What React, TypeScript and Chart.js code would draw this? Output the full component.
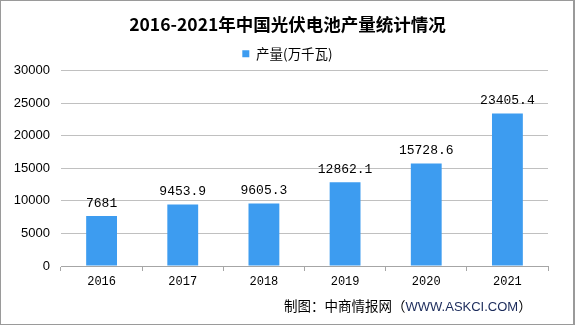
import React, { useEffect, useRef } from "react";
import { Chart, registerables } from "chart.js";

Chart.register(...registerables);

const categories = ["2016", "2017", "2018", "2019", "2020", "2021"];
const production = [7681, 9453.9, 9605.3, 12862.1, 15728.6, 23405.4];
const valueLabels = ["7681", "9453.9", "9605.3", "12862.1", "15728.6", "23405.4"];
const seriesName = "产量(万千瓦)";
const titleText = "2016-2021年中国光伏电池产量统计情况";
const sourceText = "制图：中商情报网（";
const sourceUrl = "WWW.ASKCI.COM";

const valueLabelPlugin = {
  id: "valueLabels",
  afterDatasetsDraw(chart: any) {
    const ctx = chart.ctx;
    const meta = chart.getDatasetMeta(0);
    ctx.save();
    ctx.font = "13px 'Liberation Mono', monospace";
    ctx.fillStyle = "#000";
    ctx.textAlign = "center";
    ctx.textBaseline = "bottom";
    meta.data.forEach((bar: any, i: number) => {
      ctx.fillText(valueLabels[i], bar.x, bar.y - 6);
    });
    ctx.restore();
  },
};

export default function App() {
  const canvasRef = useRef<HTMLCanvasElement | null>(null);

  useEffect(() => {
    if (!canvasRef.current) return;
    const chart = new Chart(canvasRef.current, {
      type: "bar",
      data: {
        labels: categories,
        datasets: [
          {
            label: seriesName,
            data: production,
            backgroundColor: "#3D9CF0",
            borderWidth: 0,
            barPercentage: 0.76,
            categoryPercentage: 0.5,
            yAxisID: "y",
          },
        ],
      },
      options: {
        animation: false,
        responsive: false,
        maintainAspectRatio: false,
        layout: { padding: 0 },
        plugins: {
          title: {
            display: true,
            text: titleText,
            color: "#000",
            font: { family: "'Noto Sans CJK SC', sans-serif", size: 17.5, weight: "bold" },
            padding: { top: 14, bottom: 2 },
          },
          legend: {
            display: true,
            position: "top",
            labels: {
              color: "#000",
              boxWidth: 7,
              boxHeight: 7,
              padding: 10,
              font: { family: "'Noto Sans CJK SC', sans-serif", size: 13.5 },
            },
          },
          tooltip: { enabled: false },
        },
        scales: {
          x: {
            afterFit: (s: any) => {
              s.height = 59;
            },
            grid: {
              display: true,
              drawOnChartArea: false,
              drawTicks: true,
              tickLength: 5,
              offset: true,
              color: "#a6a6a6",
            },
            border: { display: true, color: "#a6a6a6" },
            ticks: {
              color: "#000",
              padding: 4,
              font: { family: "'Liberation Mono', monospace", size: 12 },
            },
          },
          y: {
            position: "left",
            min: 0,
            max: 30000,
            afterFit: (s: any) => {
              s.width = 61;
            },
            grid: { color: "#c0c0c0", drawTicks: false },
            border: { display: false },
            ticks: {
              stepSize: 5000,
              color: "#000",
              padding: 11,
              font: { family: "'Liberation Sans', Arial, sans-serif", size: 13 },
              callback: (v: any) => String(v),
            },
          },
          yRight: {
            position: "right",
            display: true,
            min: 0,
            max: 1,
            afterFit: (s: any) => {
              s.width = 27;
            },
            grid: { display: false, drawTicks: false },
            border: { display: false },
            ticks: { display: false },
          },
        },
      },
      plugins: [valueLabelPlugin],
    });
    return () => chart.destroy();
  }, []);

  return (
    <div
      style={{
        position: "fixed",
        left: 0,
        top: 0,
        width: 575,
        height: 325,
        background: "#fff",
        overflow: "hidden",
      }}
    >
      <canvas ref={canvasRef} width={575} height={325} style={{ position: "absolute", left: 0, top: 0 }} />
      <div
        style={{
          position: "absolute",
          left: 284,
          top: 295,
          fontFamily: "'Noto Sans CJK SC', sans-serif",
          fontSize: 13.5,
          lineHeight: "20px",
          color: "#000",
          whiteSpace: "nowrap",
        }}
      >
        {sourceText}
        <span style={{ fontFamily: "'Liberation Sans', Arial, sans-serif", color: "#1a2a5a", fontSize: 13 }}>{sourceUrl}</span>
        ）
      </div>
      <div
        style={{
          position: "absolute",
          left: 0,
          top: 0,
          width: 575,
          height: 325,
          boxSizing: "border-box",
          border: "1px solid #9a9a9a",
          borderRight: "2px solid #9a9a9a",
          pointerEvents: "none",
        }}
      />
    </div>
  );
}
